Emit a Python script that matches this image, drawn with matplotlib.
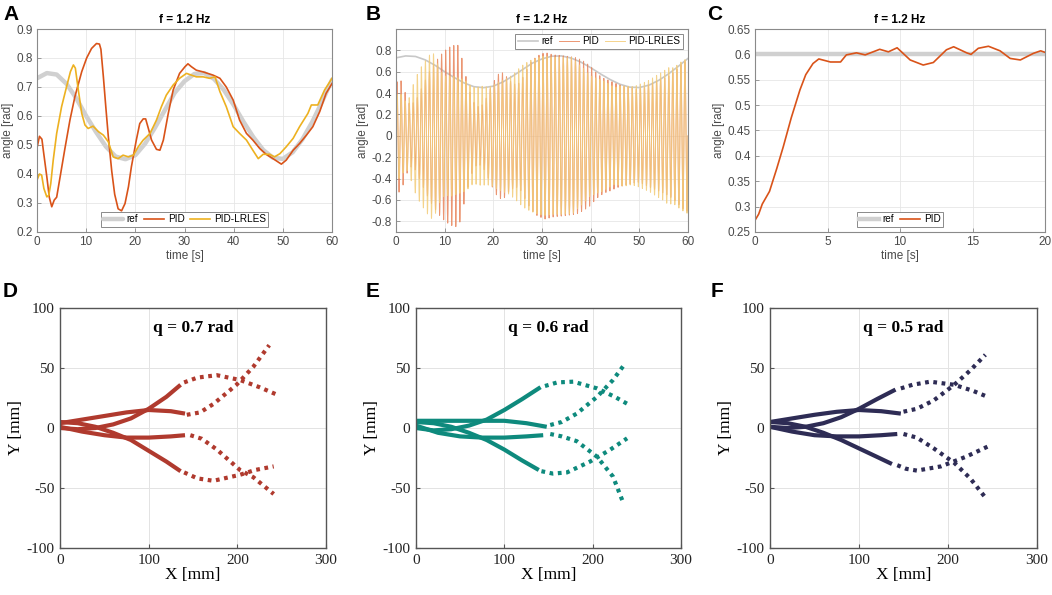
import numpy as np
import matplotlib
matplotlib.use("Agg")
import matplotlib.pyplot as plt
from matplotlib.ticker import FuncFormatter

plt.rcParams['axes.unicode_minus'] = False

# --- panel A / B : f = 1.2 Hz tracking ---
F_HZ = 1.2
t_ref = [0, 2, 4, 6, 8, 10, 12, 14, 16, 18, 20, 22, 24, 26, 28, 30,
         32, 34, 36, 38, 40, 42, 44, 46, 48, 50, 52, 54, 56, 58, 60]
ref = [0.73, 0.748, 0.743, 0.711, 0.661, 0.60, 0.545, 0.495, 0.46, 0.451, 0.465,
       0.505, 0.56, 0.62, 0.68, 0.72, 0.745, 0.748, 0.728, 0.69, 0.638, 0.58,
       0.527, 0.483, 0.456, 0.452, 0.475, 0.52, 0.58, 0.65, 0.725]

t_pid = [0, 0.5, 1, 1.3, 2, 2.5, 3, 3.5, 4, 4.7, 5.7, 6.7, 7.7, 9.1, 10.1, 11.1,
         12.1, 12.7, 13, 13.5, 14, 14.5, 15.2, 15.8, 16.5, 17.2, 17.9, 18.6, 19.2,
         20.2, 20.9, 21.6, 22.1, 22.6, 23.3, 24.3, 25, 25.7, 26.7, 27.7, 29, 30.1,
         30.7, 31.4, 32.4, 33.8, 35.8, 37.2, 38.5, 39.9, 41.2, 42.6, 43.9, 45.3,
         46.6, 48, 49.7, 50.7, 52.1, 53.4, 54.8, 56.1, 57.5, 58.8, 60]
pid = [0.49, 0.53, 0.52, 0.48, 0.39, 0.32, 0.287, 0.31, 0.32, 0.39, 0.49, 0.586,
       0.666, 0.753, 0.80, 0.833, 0.85, 0.848, 0.83, 0.735, 0.63, 0.53, 0.41,
       0.33, 0.28, 0.273, 0.298, 0.356, 0.425, 0.517, 0.574, 0.59, 0.59, 0.56,
       0.517, 0.485, 0.482, 0.517, 0.609, 0.69, 0.747, 0.77, 0.78, 0.77, 0.758,
       0.752, 0.741, 0.73, 0.70, 0.655, 0.586, 0.54, 0.517, 0.488, 0.468, 0.453,
       0.434, 0.448, 0.482, 0.505, 0.534, 0.563, 0.615, 0.678, 0.712]

t_lrles = [0, 0.5, 0.95, 1.4, 2, 2.4, 2.8, 3.3, 4, 5, 6, 6.8, 7.4, 7.8, 8.4, 9.1,
           9.75, 10.4, 11.4, 12.5, 13.5, 14.5, 15.5, 16.5, 17.5, 18.6, 19.6, 20.6,
           21.6, 23, 24.3, 25.3, 26.3, 27.7, 29, 30.4, 31.4, 32.4, 33.8, 35.1, 36.2,
           37.2, 38.5, 39.9, 41.2, 42.6, 43.9, 45, 46, 47.3, 48.3, 49.4, 50.7, 52.1,
           53.4, 55.1, 55.8, 57.1, 58.5, 60]
lrles = [0.379, 0.40, 0.396, 0.35, 0.321, 0.327, 0.367, 0.448, 0.54, 0.632, 0.70,
         0.753, 0.776, 0.765, 0.69, 0.609, 0.569, 0.557, 0.565, 0.546, 0.534, 0.511,
         0.459, 0.453, 0.465, 0.459, 0.465, 0.494, 0.517, 0.54, 0.586, 0.632, 0.672,
         0.707, 0.73, 0.747, 0.741, 0.735, 0.735, 0.73, 0.735, 0.684, 0.632, 0.563,
         0.54, 0.517, 0.482, 0.453, 0.468, 0.468, 0.459, 0.47, 0.494, 0.523, 0.563,
         0.609, 0.638, 0.638, 0.69, 0.73]

# --- panel C : step to 0.6 rad ---
t_step = [0, 0.25, 0.5, 1, 1.5, 1.95, 2.5, 3.1, 3.5, 4, 4.4, 4.8, 5.2, 5.9, 6.3, 7,
          7.6, 8.6, 9.2, 9.8, 10.7, 11.6, 12.3, 13.2, 13.7, 14.6, 14.9, 15.4, 16.1,
          16.9, 17.6, 18.3, 19.2, 19.7, 20]
pid_step = [0.273, 0.285, 0.305, 0.33, 0.375, 0.418, 0.475, 0.53, 0.56, 0.582,
            0.591, 0.588, 0.585, 0.585, 0.599, 0.603, 0.599, 0.61, 0.605, 0.613,
            0.589, 0.579, 0.584, 0.609, 0.615, 0.603, 0.60, 0.612, 0.616, 0.607,
            0.592, 0.589, 0.602, 0.607, 0.604]
ref_step = 0.6

# --- panels D-F : tip trajectories, solid (x<~145) and dotted continuation ---
titles = ["q = 0.7 rad", "q = 0.6 rad", "q = 0.5 rad"]
traj_colors = ["#B03A2E", "#0E8A7D", "#2E2C55"]

solid_D = [
    ([0, 20, 40, 60, 80, 100, 120, 136], [0, -1, 0, 3, 8, 16, 26, 36]),
    ([0, 25, 50, 75, 100, 125, 141], [4, 7, 10, 13, 15, 14, 12]),
    ([0, 25, 50, 75, 100, 125, 141], [1, -3, -6, -8, -8, -7, -6]),
    ([0, 20, 40, 60, 80, 100, 120, 136], [5, 4, 1, -4, -10, -19, -28, -36]),
]
dotted_D = [
    ([140, 155, 177, 203, 225, 244], [38, 42, 44, 40, 34, 28]),
    ([143, 158, 173, 199, 218, 236], [11, 13, 20, 36, 51, 69]),
    ([147, 160, 177, 203, 218, 241], [-6, -9, -18, -35, -41, -55]),
    ([140, 155, 173, 203, 220, 241], [-37, -42, -44, -39, -35, -32]),
]
solid_E = [
    ([0, 20, 40, 60, 80, 100, 120, 141], [0, -2, -1, 2, 7, 15, 24, 34]),
    ([0, 25, 50, 75, 100, 125, 148], [6, 6, 6, 6, 6, 4, 1]),
    ([0, 25, 50, 75, 100, 125, 144], [2, -4, -7, -8, -8, -7, -6]),
    ([0, 20, 40, 60, 80, 100, 120, 139], [5, 4, 1, -4, -10, -18, -27, -35]),
]
dotted_E = [
    ([146, 160, 178, 205, 225, 242], [35, 38, 38.6, 33, 26, 19]),
    ([152, 165, 182, 205, 223, 237], [2.5, 5, 12, 26, 40, 54]),
    ([152, 165, 182, 205, 223, 235], [-5, -7, -11, -24, -40.5, -63]),
    ([142, 155, 171, 197, 220, 239], [-36, -38, -37, -28, -18, -8.6]),
]
solid_F = [
    ([0, 20, 40, 60, 80, 100, 120, 141], [1, 0, 1, 4, 9, 16, 24, 32]),
    ([0, 25, 50, 75, 100, 125, 147], [5, 8, 11, 13.5, 15, 14, 12]),
    ([0, 25, 50, 75, 100, 125, 143], [1, -3, -6, -7, -7, -6, -5]),
    ([0, 20, 40, 60, 80, 100, 120, 137], [5, 4, 1, -4, -10, -17, -24, -30]),
]
dotted_F = [
    ([147, 160, 180, 207, 228, 246], [33, 36, 38.6, 36, 31, 25.5]),
    ([150, 165, 184, 207, 225, 242], [13.6, 16, 23, 36, 48, 61]),
    ([150, 165, 184, 207, 225, 241], [-5, -8, -17, -29, -42, -57]),
    ([143, 153, 165, 192, 220, 246], [-31, -34, -35.5, -32, -24, -15]),
]
solid_sets = [solid_D, solid_E, solid_F]
dotted_sets = [dotted_D, dotted_E, dotted_F]

C_REF = "#d0d0d0"
C_PID = "#D95319"
C_LRLES = "#EDB120"
SANS = "Liberation Sans"
SERIF = "Liberation Serif"

fig = plt.figure(figsize=(10.52, 5.95), dpi=100)
W, H = 1052, 595


def px_axes(l, t, r, b):
    return fig.add_axes([l / W, 1 - b / H, (r - l) / W, (b - t) / H])


def style_top(ax):
    for s in ax.spines.values():
        s.set_color("#8a8a8a")
        s.set_linewidth(0.8)
    ax.tick_params(direction="in", length=3, width=0.6, color="#8a8a8a",
                   labelsize=8.5, labelcolor="#4a4a4a", pad=3)
    for lab in ax.get_xticklabels() + ax.get_yticklabels():
        lab.set_family(SANS)
    ax.grid(True, color="#e6e6e6", linewidth=0.6)
    ax.set_axisbelow(True)
    ax.set_xlabel("time [s]", family=SANS, fontsize=8.5, color="#4a4a4a", labelpad=1)
    ax.set_ylabel("angle [rad]", family=SANS, fontsize=8.5, color="#4a4a4a", labelpad=2)
    ax.set_title("f = 1.2 Hz", family=SANS, fontsize=8.5, fontweight="bold", pad=4)


def legend_top(ax, loc, anchor):
    lg = ax.legend(loc=loc, bbox_to_anchor=anchor, ncol=3, fancybox=False,
                   edgecolor="#8a8a8a", framealpha=1, handlelength=2.0,
                   handletextpad=0.35, columnspacing=0.6, borderpad=0.25,
                   prop={"family": SANS, "size": 7.2})
    lg.get_frame().set_linewidth(0.7)


def g_label(v, p):
    v = round(v, 3)
    if v == 0:
        return "0"
    return "%g" % v


g_fmt = FuncFormatter(g_label)

# A
axA = px_axes(37, 29, 332, 232)
axA.plot(t_ref, ref, color=C_REF, lw=3.2, label="ref", solid_capstyle="round")
axA.plot(t_pid, pid, color=C_PID, lw=1.2, label="PID")
axA.plot(t_lrles, lrles, color=C_LRLES, lw=1.2, label="PID-LRLES")
axA.set_xlim(0, 60)
axA.set_ylim(0.2, 0.9)
axA.set_xticks(range(0, 61, 10))
axA.set_yticks(np.arange(0.2, 0.91, 0.1))
axA.yaxis.set_major_formatter(g_fmt)
style_top(axA)
legend_top(axA, "lower center", (0.5, 0.0))

# B : oscillating joint angle at F_HZ, amplitude from the A traces
tb = np.arange(0, 60.001, 0.01)
carrier = np.sin(2 * np.pi * F_HZ * tb)
axB = px_axes(396, 29, 688, 232)
axB.plot(t_ref, ref, color="#c8c8c8", lw=1.2, label="ref")
axB.plot(tb, np.interp(tb, t_pid, pid) * carrier, color="#E8845A", lw=0.7,
         alpha=0.85, label="PID")
axB.plot(tb, np.interp(tb, t_lrles, lrles) * carrier, color="#F3CC78", lw=0.7,
         alpha=0.85, label="PID-LRLES")
axB.set_xlim(0, 60)
axB.set_ylim(-0.9, 1.0)
axB.set_xticks(range(0, 61, 10))
axB.set_yticks([-0.8, -0.6, -0.4, -0.2, 0, 0.2, 0.4, 0.6, 0.8])
axB.yaxis.set_major_formatter(g_fmt)
style_top(axB)
legend_top(axB, "upper right", (1.0, 1.0))

# C
axC = px_axes(755, 29, 1045, 232)
axC.plot([0, 20], [ref_step, ref_step], color=C_REF, lw=3.2, label="ref")
axC.plot(t_step, pid_step, color=C_PID, lw=1.2, label="PID")
axC.set_xlim(0, 20)
axC.set_ylim(0.25, 0.65)
axC.set_xticks(range(0, 21, 5))
axC.set_yticks(np.arange(0.25, 0.651, 0.05))
axC.yaxis.set_major_formatter(g_fmt)
style_top(axC)
legend_top(axC, "lower center", (0.5, 0.0))

# D-F
bottom_boxes = [(60, 308, 326, 548), (416, 308, 681, 548), (770, 308, 1037, 548)]
for box, title, col, sol, dot in zip(bottom_boxes, titles, traj_colors,
                                     solid_sets, dotted_sets):
    ax = px_axes(*box)
    for xs, ys in sol:
        ax.plot(xs, ys, color=col, lw=3.0, solid_capstyle="butt")
    for xs, ys in dot:
        ax.plot(xs, ys, color=col, lw=3.0, linestyle=(0, (0.9, 1.1)),
                dash_capstyle="butt")
    ax.set_xlim(0, 300)
    ax.set_ylim(-100, 100)
    ax.set_xticks([0, 100, 200, 300])
    ax.set_yticks([-100, -50, 0, 50, 100])
    ax.grid(True, color="#e3e3e3", linewidth=0.7)
    ax.set_axisbelow(True)
    for s in ax.spines.values():
        s.set_color("#555555")
        s.set_linewidth(1.0)
    ax.tick_params(direction="in", length=3, width=0.8, color="#555555",
                   labelsize=11, labelcolor="#222222", pad=4)
    for lab in ax.get_xticklabels() + ax.get_yticklabels():
        lab.set_family(SERIF)
    ax.set_xlabel("X [mm]", family=SERIF, fontsize=12.5, labelpad=0)
    ax.set_ylabel("Y [mm]", family=SERIF, fontsize=12.5, labelpad=2)
    ax.text(150, 83, title, family=SERIF, fontsize=12.5, fontweight="bold",
            ha="center", va="center")

# panel letters
letters = [("A", 3, 20), ("B", 366, 20), ("C", 707, 20),
           ("D", 3, 297), ("E", 366, 297), ("F", 711, 297)]
for s, x, y in letters:
    fig.text(x / W, 1 - y / H, s, family=SANS, fontsize=15, fontweight="bold",
             ha="left", va="baseline")

fig.savefig("out.png", dpi=100)
